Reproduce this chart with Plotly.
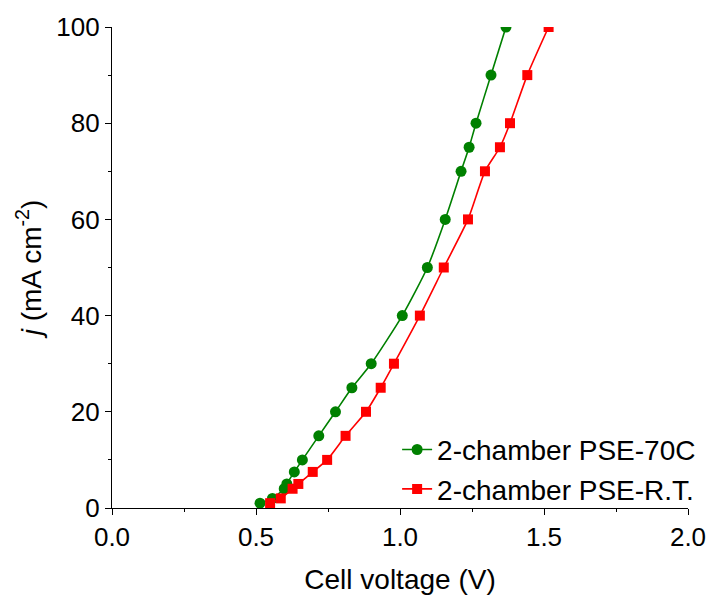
import plotly.graph_objects as go

# Data
j_70c = [1, 2, 4, 5, 7.5, 10, 15, 20, 25, 30, 40, 50, 60, 70, 75, 80, 90, 100]
v_70c = [0.514, 0.557, 0.598, 0.607, 0.633, 0.661, 0.718, 0.776, 0.833, 0.900,
         1.008, 1.095, 1.157, 1.212, 1.240, 1.264, 1.316, 1.368]

j_rt = [1, 2, 4, 5, 7.5, 10, 15, 20, 25, 30, 40, 50, 60, 70, 75, 80, 90, 100]
v_rt = [0.549, 0.586, 0.627, 0.647, 0.697, 0.747, 0.811, 0.882, 0.933, 0.979,
        1.069, 1.152, 1.236, 1.295, 1.347, 1.382, 1.442, 1.516]

names = ["2-chamber PSE-70C", "2-chamber PSE-R.T."]
x_ticks = [0.0, 0.5, 1.0, 1.5, 2.0]
x_ticklabels = ["0.0", "0.5", "1.0", "1.5", "2.0"]
y_ticks = [0, 20, 40, 60, 80, 100]

FONT = "Arial, Liberation Sans, sans-serif"

fig = go.Figure()
fig.add_trace(go.Scatter(
    x=v_70c, y=j_70c, name=names[0], mode="lines+markers",
    line=dict(color="#008000", width=1.6, shape="spline", smoothing=0.6),
    marker=dict(symbol="circle", size=11, color="#008000"),
))
fig.add_trace(go.Scatter(
    x=v_rt, y=j_rt, name=names[1], mode="lines+markers",
    line=dict(color="#ff0000", width=1.6, shape="spline", smoothing=0.6),
    marker=dict(symbol="square", size=10, color="#ff0000"),
))

axis_common = dict(
    showline=True, linecolor="black", linewidth=1.2,
    ticks="outside", ticklen=6, tickwidth=1.2, tickcolor="black",
    showgrid=False, zeroline=False, mirror=False, automargin=False,
    tickfont=dict(family=FONT, size=26, color="black"),
)

fig.update_xaxes(
    range=[0, 2], tickvals=x_ticks, ticktext=x_ticklabels,
    minor=dict(ticks="outside", ticklen=3, tickwidth=1, tickcolor="black", dtick=0.25, showgrid=False),
    title=dict(text="Cell voltage (V)", font=dict(family=FONT, size=28, color="black"), standoff=18),
    **axis_common,
)
fig.update_yaxes(
    range=[0, 100], tickvals=y_ticks,
    minor=dict(ticks="outside", ticklen=3, tickwidth=1, tickcolor="black", dtick=10, showgrid=False),
    title=dict(text="<i>j</i> (mA cm<sup>-2</sup>)", font=dict(family=FONT, size=28, color="black"), standoff=6),
    **axis_common,
)

fig.update_layout(
    width=713, height=600,
    margin=dict(l=112, r=25, t=27, b=92),
    plot_bgcolor="white", paper_bgcolor="white",
    font=dict(family=FONT, size=28, color="black"),
    legend=dict(
        x=0.495, y=0.173, xanchor="left", yanchor="top",
        bgcolor="rgba(0,0,0,0)", font=dict(family=FONT, size=28, color="black"),
        tracegroupgap=0,
    ),
    showlegend=True,
)

fig.write_html("out.html")
